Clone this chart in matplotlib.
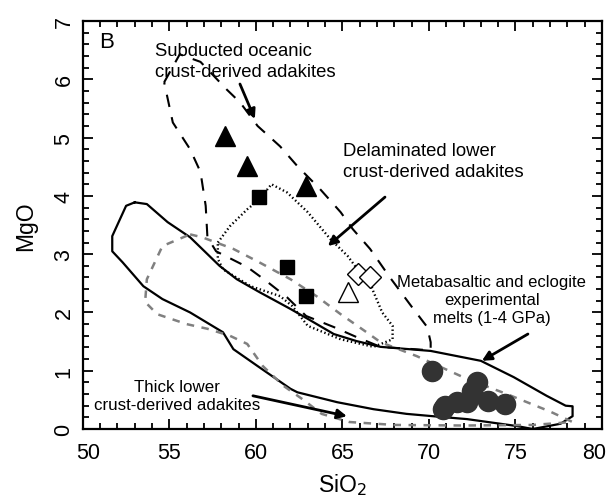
import numpy as np
import matplotlib
matplotlib.use('Agg')
import matplotlib.pyplot as plt
from matplotlib.ticker import MultipleLocator
from matplotlib.transforms import ScaledTranslation

plt.rcParams['font.family'] = ['Liberation Sans', 'DejaVu Sans']

# axis ticks
x_ticks = [50, 55, 60, 65, 70, 75, 80]
y_ticks = [0, 1, 2, 3, 4, 5, 6, 7]

# solid field (metabasaltic / eclogite experimental melts)
melt_x = [53.0, 53.7, 54.9, 56.2, 57.9, 58.9, 60.2, 62.0, 63.0, 64.5, 65.8, 67.2, 70.1, 73.0, 74.9, 76.8, 77.9,
          78.3, 78.3, 77.6, 76.0, 75.1, 72.2, 70.6, 68.7, 66.8, 64.7, 62.4, 62.0, 60.1, 58.7, 58.1, 56.2, 54.6,
          53.5, 52.3, 51.7, 51.7, 52.5, 53.0]
melt_y = [3.89, 3.86, 3.55, 3.29, 2.80, 2.57, 2.35, 2.06, 1.89, 1.63, 1.51, 1.41, 1.34, 1.17, 0.89, 0.57, 0.40,
          0.39, 0.22, 0.09, 0.00, 0.05, 0.17, 0.21, 0.26, 0.34, 0.46, 0.63, 0.69, 1.08, 1.37, 1.66, 2.00, 2.23,
          2.45, 2.86, 3.05, 3.31, 3.83, 3.89]

# grey dashed field (thick lower crust-derived adakites)
thick_x = [56.2, 56.9, 58.7, 60.2, 62.0, 63.5, 64.9, 66.4, 67.2, 69.3, 72.2, 74.5, 77.0, 78.3, 76.0, 72.0, 68.0,
           65.4, 63.8, 62.7, 61.6, 60.4, 59.5, 58.5, 57.2, 56.0, 54.3, 53.6, 53.7, 54.6, 56.2]
thick_y = [3.34, 3.29, 3.09, 2.86, 2.57, 2.28, 1.97, 1.66, 1.49, 1.25, 0.86, 0.60, 0.30, 0.12, 0.07, 0.06, 0.07,
           0.12, 0.26, 0.51, 0.74, 1.08, 1.46, 1.60, 1.72, 1.80, 1.97, 2.18, 2.57, 3.14, 3.34]

# black dashed field (subducted oceanic crust-derived adakites)
slab_x = [54.7, 55.6, 56.8, 58.3, 59.1, 60.1, 61.4, 62.4, 63.7, 64.9, 65.6, 66.6, 67.7, 69.0, 69.9, 70.1, 70.1,
          67.2, 65.8, 64.5, 62.9, 61.8, 60.6, 59.5, 57.7, 57.2, 57.1, 56.8, 56.2, 55.2, 54.7]
slab_y = [5.95, 6.43, 6.30, 5.83, 5.60, 5.20, 4.85, 4.51, 4.12, 3.72, 3.43, 3.09, 2.62, 2.10, 1.75, 1.49, 1.35,
          1.41, 1.58, 1.75, 1.94, 2.26, 2.54, 2.78, 3.05, 3.29, 3.83, 4.41, 4.80, 5.26, 5.95]

# dotted field (delaminated lower crust-derived adakites)
delam_x = [57.8, 58.5, 59.5, 60.2, 60.9, 61.8, 63.0, 64.3, 65.3, 66.0, 66.6, 66.8, 67.3, 67.9, 67.9, 66.8, 64.9,
           63.0, 62.1, 61.4, 59.7, 58.1, 57.8, 57.8]
delam_y = [3.20, 3.48, 3.77, 3.94, 4.20, 4.06, 3.72, 3.26, 2.97, 2.69, 2.52, 2.35, 2.00, 1.77, 1.54, 1.41, 1.54,
           1.77, 2.11, 2.28, 2.45, 2.74, 2.92, 3.20]

# samples
tri_x = [58.2, 59.5, 62.9]
tri_y = [5.03, 4.51, 4.17]
sq_x = [60.2, 61.8, 62.9]
sq_y = [3.98, 2.78, 2.28]
dia_x = [65.9, 66.6]
dia_y = [2.66, 2.60]
otri_x = [65.3]
otri_y = [2.35]
circ_x = [70.2, 72.8, 72.5, 70.9, 71.6, 72.2, 73.4, 74.4, 70.8]
circ_y = [1.00, 0.80, 0.66, 0.40, 0.46, 0.46, 0.48, 0.43, 0.34]

fig = plt.figure(figsize=(6.09, 5.02), dpi=100)
ax = fig.add_axes([0.136, 0.1434, 0.8525, 0.8126])

ax.plot(melt_x, melt_y, color='black', lw=1.6)
ax.plot(thick_x, thick_y, color='#808080', lw=1.8, dashes=(3, 3))
ax.plot(slab_x, slab_y, color='black', lw=1.5, dashes=(6, 5))
ax.plot(delam_x, delam_y, color='black', lw=1.7, ls=(0, (0.6, 1.1)))

ax.plot(circ_x, circ_y, 'o', ms=14.5, color='#333333', mec='#333333', ls='none')
ax.plot(tri_x, tri_y, '^', ms=14, color='black', ls='none')
ax.plot(sq_x, sq_y, 's', ms=10, color='black', ls='none')
ax.plot(dia_x, dia_y, 'D', ms=11, mfc='white', mec='black', mew=1.0, ls='none')
ax.plot(otri_x, otri_y, '^', ms=14, mfc='white', mec='black', mew=1.0, ls='none')

arrow = dict(arrowstyle='-|>', color='black', lw=2, mutation_scale=14, shrinkA=0, shrinkB=0)
ax.annotate('', xy=(59.94, 5.32), xytext=(59.08, 5.92), arrowprops=arrow)
ax.annotate('', xy=(64.16, 3.14), xytext=(67.46, 3.98), arrowprops=arrow)
ax.annotate('', xy=(73.06, 1.17), xytext=(75.72, 1.63), arrowprops=arrow)
ax.annotate('', xy=(65.26, 0.22), xytext=(59.83, 0.57), arrowprops=arrow)

ax.text(51.4, 6.65, 'B', fontsize=16, va='center', ha='center')
ax.text(54.16, 6.64, 'Subducted oceanic\ncrust-derived adakites', fontsize=13.3, va='top', ha='left',
        linespacing=1.3)
ax.text(65.03, 4.92, 'Delaminated lower\ncrust-derived adakites', fontsize=13.3, va='top', ha='left',
        linespacing=1.3)
ax.text(73.64, 2.22, 'Metabasaltic and eclogite\nexperimental\nmelts (1-4 GPa)', fontsize=12, va='center',
        ha='center', linespacing=1.25)
ax.text(55.43, 0.86, 'Thick lower\ncrust-derived adakites', fontsize=12.2, va='top', ha='center',
        linespacing=1.3)

ax.set_xlim(50, 80)
ax.set_ylim(0, 7)
ax.set_xticks(x_ticks)
ax.set_yticks(y_ticks)
ax.xaxis.set_minor_locator(MultipleLocator(1))
ax.yaxis.set_minor_locator(MultipleLocator(0.2))
ax.tick_params(which='both', direction='in', top=True, right=True, width=1.3)
ax.tick_params(which='major', length=7, labelsize=15.5)
ax.tick_params(axis='x', which='major', pad=9)
ax.tick_params(axis='y', which='major', pad=6)
ax.tick_params(which='minor', length=4)

for lab in ax.get_yticklabels():
    lab.set_rotation(90)
    lab.set_va('center')

# end labels pulled inwards a little, as in the original
xlabs = ax.get_xticklabels()
xlabs[0].set_transform(xlabs[0].get_transform() + ScaledTranslation(5 / 100, 0, fig.dpi_scale_trans))
xlabs[-1].set_transform(xlabs[-1].get_transform() + ScaledTranslation(-8 / 100, 0, fig.dpi_scale_trans))

for sp in ax.spines.values():
    sp.set_linewidth(1.6)

ax.set_xlabel('SiO$_2$', fontsize=16.5, labelpad=6)
ax.set_ylabel('MgO', fontsize=16.5, labelpad=12)

plt.savefig('out.png', dpi=100)
